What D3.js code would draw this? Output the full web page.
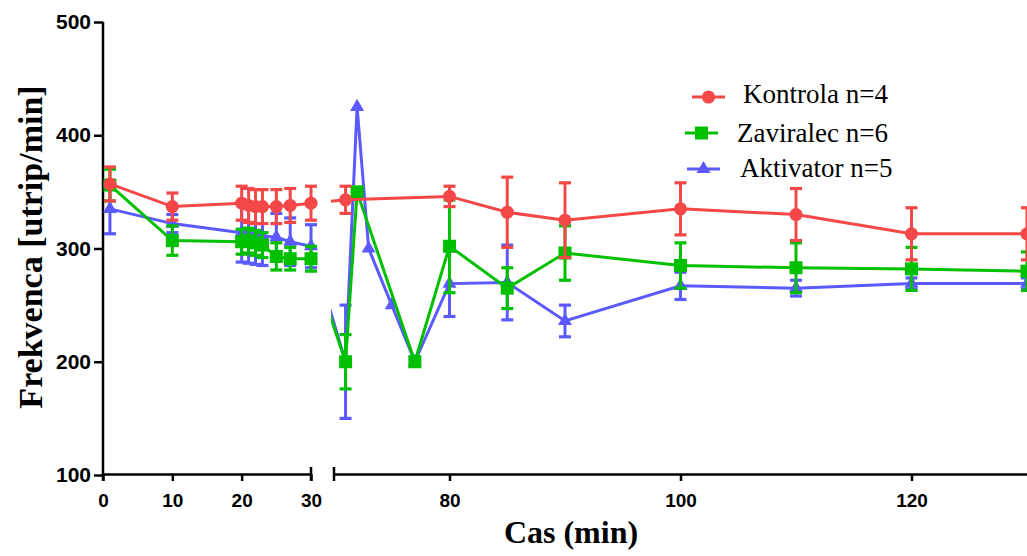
<!DOCTYPE html>
<html>
<head>
<meta charset="utf-8">
<script src="https://cdn.jsdelivr.net/npm/d3@7"></script>
<style>
  html, body { margin: 0; padding: 0; background: #fff; }
  svg { display: block; }
</style>
</head>
<body>
<svg id="chart" width="1027" height="556"></svg>
<script>
// ---------- data ----------
const seriesNames = ["Kontrola n=4", "Zaviralec n=6", "Aktivator n=5"];

const xKontrola = [1, 10, 20, 21, 22, 23, 25, 27, 30, 71, 80, 85, 90, 100, 110, 120, 130];
const yKontrola = [357, 337, 340, 338, 337, 337, 337, 338, 340, 343, 346, 332, 325, 335, 330, 313, 313];
const eKontrola = [15, 12, 15, 15, 15, 15, 15, 15, 15, 12, 9, 31, 33, 23, 23, 23, 23];

const xZaviralec = [1, 10, 20, 21, 22, 23, 25, 27, 30, 71, 72, 77, 80, 85, 90, 100, 110, 120, 130];
const yZaviralec = [356, 307, 306, 307, 305, 303, 293, 291, 291, 200, 350, 200, 302, 265, 296, 285, 283, 282, 280];
const eZaviralec = [14, 13, 11, 11, 11, 11, 12, 10, 11, 24, 4, 4, 41, 18, 24, 20, 22, 19, 17];

const xAktivator = [1, 10, 20, 21, 22, 23, 25, 27, 30, 71, 72, 73, 75, 77, 80, 85, 90, 100, 110, 120, 130];
const yAktivator = [335, 322, 314, 313, 312, 311, 310, 306, 302, 200, 425, 300, 250, 200, 269, 270, 236, 267, 265, 269, 269];
const eAktivator = [22, 8, 26, 26, 26, 26, 21, 21, 19, 50, 0, 0, 0, 0, 29, 33, 14, 12, 7, 5, 5];

const yTicks = [100, 200, 300, 400, 500];
const xTicks1 = [0, 10, 20, 30];
const xTicks2 = [80, 100, 120];

// ---------- layout ----------
const svg = d3.select("#chart");
const colors = ["#F44848", "#00C000", "#5A5AFF"];
const symbols = [d3.symbolCircle, d3.symbolSquare, d3.symbolTriangle];
const symSizes = [135, 169, 85];

const axisY = 474;
const y = d3.scaleLinear().domain([100, 500]).range([475, 22]);
const x1 = d3.scaleLinear().domain([0, 30]).range([103, 311]);
const x2 = d3.scaleLinear().domain([70, 130]).range([334, 1027]);
const xp = v => v <= 30 ? x1(v) : x2(v);

// clip for lines (broken axis gap)
const defs = svg.append("defs");
const cp = defs.append("clipPath").attr("id", "gapclip");
cp.append("rect").attr("x", 0).attr("y", 0).attr("width", 311.5).attr("height", 556);
cp.append("rect").attr("x", 331).attr("y", 0).attr("width", 700).attr("height", 556);

// ---------- axes ----------
const yAxis = d3.axisLeft(y).tickValues(yTicks).tickSizeInner(9).tickSizeOuter(0).tickPadding(3);
const gy = svg.append("g").attr("transform", "translate(103,0)").call(yAxis);
gy.select(".domain").attr("stroke-width", 2.5).attr("d", "M0,22V481");
gy.selectAll(".tick line").attr("stroke-width", 2.5);
gy.selectAll(".tick text").attr("font-family", "Liberation Sans, Arial, sans-serif")
  .attr("font-weight", "bold").attr("font-size", 21).attr("fill", "#000");

function xAxisSeg(scale, ticks) {
  const ax = d3.axisBottom(scale).tickValues(ticks).tickSizeInner(7).tickSizeOuter(0).tickPadding(13);
  const g = svg.append("g").attr("transform", `translate(0,${axisY})`).call(ax);
  g.select(".domain").attr("stroke-width", 2.5);
  g.selectAll(".tick line").attr("stroke-width", 2.5);
  g.selectAll(".tick text").attr("font-family", "Liberation Sans, Arial, sans-serif")
    .attr("font-weight", "bold").attr("font-size", 19).attr("fill", "#000");
  return g;
}
xAxisSeg(x1, xTicks1);
xAxisSeg(x2, xTicks2);
// break marks
[x1(30), x2(70)].forEach(px => {
  svg.append("line").attr("x1", px).attr("x2", px).attr("y1", axisY - 7).attr("y2", axisY + 7)
    .attr("stroke", "#000").attr("stroke-width", 2.5);
});

// axis titles
svg.append("text")
  .attr("transform", "translate(42,247) rotate(-90)")
  .attr("text-anchor", "middle")
  .attr("font-family", "Liberation Serif, Times New Roman, serif")
  .attr("font-weight", "bold").attr("font-size", 34)
  .text("Frekvenca [utrip/min]");
svg.append("text")
  .attr("x", 571).attr("y", 543)
  .attr("text-anchor", "middle")
  .attr("font-family", "Liberation Serif, Times New Roman, serif")
  .attr("font-weight", "bold").attr("font-size", 32)
  .text("Cas (min)");

// ---------- series ----------
const allSeries = [
  { xs: xKontrola, ys: yKontrola, es: eKontrola },
  { xs: xZaviralec, ys: yZaviralec, es: eZaviralec },
  { xs: xAktivator, ys: yAktivator, es: eAktivator }
];

const drawOrder = [2, 1, 0];
const line = d3.line().x(d => xp(d.x)).y(d => y(d.y));

drawOrder.forEach(i => {
  const s = allSeries[i];
  const pts = s.xs.map((xv, k) => ({ x: xv, y: s.ys[k], e: s.es[k] }));
  const g = svg.append("g");
  g.append("path").datum(pts).attr("d", line)
    .attr("fill", "none").attr("stroke", colors[i]).attr("stroke-width", 3)
    .attr("stroke-linejoin", "miter").attr("clip-path", "url(#gapclip)");
  const eb = g.selectAll(".eb").data(pts.filter(p => p.e > 0)).enter().append("g");
  eb.append("line")
    .attr("x1", p => xp(p.x)).attr("x2", p => xp(p.x))
    .attr("y1", p => y(p.y + p.e)).attr("y2", p => y(p.y - p.e))
    .attr("stroke", colors[i]).attr("stroke-width", 3);
  [1, -1].forEach(sg => {
    eb.append("line")
      .attr("x1", p => xp(p.x) - 6).attr("x2", p => xp(p.x) + 6)
      .attr("y1", p => y(p.y + sg * p.e)).attr("y2", p => y(p.y + sg * p.e))
      .attr("stroke", colors[i]).attr("stroke-width", 3.2);
  });
  g.selectAll(".m").data(pts).enter().append("path")
    .attr("d", d3.symbol().type(symbols[i]).size(symSizes[i]))
    .attr("transform", p => `translate(${xp(p.x)},${y(p.y)})`)
    .attr("fill", colors[i]);
});

// ---------- legend ----------
const legLine = [[692, 725, 97], [685, 718, 133], [687, 720, 169]];
const legText = [[743, 103], [737, 142], [740, 177]];
seriesNames.forEach((name, i) => {
  const [lx1, lx2, ly] = legLine[i];
  svg.append("line").attr("x1", lx1).attr("x2", lx2).attr("y1", ly).attr("y2", ly)
    .attr("stroke", colors[i]).attr("stroke-width", 3);
  svg.append("path").attr("d", d3.symbol().type(symbols[i]).size(symSizes[i]))
    .attr("transform", `translate(${(lx1 + lx2) / 2},${ly})`).attr("fill", colors[i]);
  svg.append("text").attr("x", legText[i][0]).attr("y", legText[i][1])
    .attr("font-family", "Liberation Serif, Times New Roman, serif")
    .attr("font-size", 27).attr("fill", "#000").text(name);
});
</script>
</body>
</html>
